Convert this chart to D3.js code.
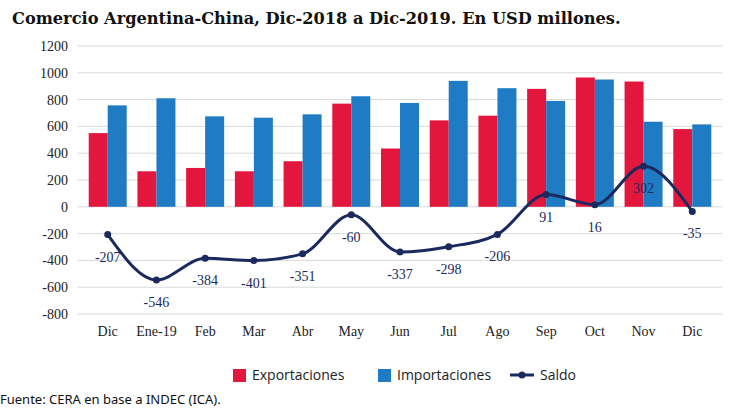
<!DOCTYPE html>
<html><head><meta charset="utf-8">
<script src="https://cdn.jsdelivr.net/npm/d3@7"></script>
<style>body{margin:0;background:#fff}</style>
</head><body>
<svg id="chart" width="730" height="410"></svg>
<script>
const categories = ["Dic","Ene-19","Feb","Mar","Abr","May","Jun","Jul","Ago","Sep","Oct","Nov","Dic"];
const exportaciones = [550,265,290,265,340,770,435,645,680,880,965,935,580];
const importaciones = [757,810,675,665,690,825,775,940,885,790,950,635,615];
const saldo = [-207,-546,-384,-401,-351,-60,-337,-298,-206,91,16,302,-35];
const yTicks = [-800,-600,-400,-200,0,200,400,600,800,1000,1200];

const expColor = "#e3173e", impColor = "#1f7cc4", saldoColor = "#1b2a5e";
const svg = d3.select("#chart");
const left = 78, right = 722;

const x = d3.scaleBand().domain(d3.range(categories.length)).range([left, right]).padding(0.22);
const y = d3.scaleLinear().domain([-800, 1200]).range([314, 46]);

// grid
svg.append("g").selectAll("line").data(yTicks).join("line")
  .attr("x1", left).attr("x2", right)
  .attr("y1", d => y(d)).attr("y2", d => y(d))
  .attr("stroke", "#d9d9d9");

const yAxis = svg.append("g").attr("transform", `translate(${left},0)`)
  .call(d3.axisLeft(y).tickValues(yTicks).tickSize(0).tickPadding(10).tickFormat(d => d === 0 ? "0" : d));
yAxis.select(".domain").remove();
yAxis.selectAll("text").attr("font-family", "Liberation Serif").attr("font-size", 14).attr("fill", "#222");

const xAxis = svg.append("g").attr("transform", `translate(0,314)`)
  .call(d3.axisBottom(x).tickFormat(i => categories[i]).tickSize(0).tickPadding(12));
xAxis.select(".domain").remove();
xAxis.selectAll("text").attr("font-family", "Liberation Serif").attr("font-size", 14).attr("fill", "#222");

const bw = x.bandwidth() / 2;
svg.append("g").selectAll("rect").data(exportaciones).join("rect")
  .attr("x", (d, i) => x(i)).attr("width", bw)
  .attr("y", d => y(d)).attr("height", d => y(0) - y(d))
  .attr("fill", expColor);
svg.append("g").selectAll("rect").data(importaciones).join("rect")
  .attr("x", (d, i) => x(i) + bw).attr("width", bw)
  .attr("y", d => y(d)).attr("height", d => y(0) - y(d))
  .attr("fill", impColor);

const cx = i => x(i) + x.bandwidth() / 2;
const line = d3.line().x((d, i) => cx(i)).y(d => y(d)).curve(d3.curveMonotoneX);
svg.append("path").datum(saldo).attr("d", line)
  .attr("fill", "none").attr("stroke", saldoColor).attr("stroke-width", 3);
svg.append("g").selectAll("circle").data(saldo).join("circle")
  .attr("cx", (d, i) => cx(i)).attr("cy", d => y(d)).attr("r", 3.5).attr("fill", saldoColor);
svg.append("g").selectAll("text").data(saldo).join("text")
  .attr("x", (d, i) => cx(i)).attr("y", d => y(d) + 27)
  .attr("text-anchor", "middle").attr("font-family", "Liberation Serif").attr("font-size", 14)
  .attr("fill", saldoColor).text(d => d);

// title
svg.append("text").attr("x", 12).attr("y", 24).attr("font-family", "DejaVu Serif")
  .attr("font-weight", "bold").attr("font-size", 16.2).attr("fill", "#111")
  .text("Comercio Argentina-China, Dic-2018 a Dic-2019. En USD millones.");

// legend
const legend = [
  {label: "Exportaciones", color: expColor, type: "rect", x: 233},
  {label: "Importaciones", color: impColor, type: "rect", x: 378},
  {label: "Saldo", color: saldoColor, type: "line", x: 514}
];
legend.forEach(l => {
  if (l.type === "rect") svg.append("rect").attr("x", l.x).attr("y", 369).attr("width", 13).attr("height", 13).attr("fill", l.color);
  else {
    svg.append("line").attr("x1", l.x - 4).attr("x2", l.x + 20).attr("y1", 375).attr("y2", 375).attr("stroke", l.color).attr("stroke-width", 3);
    svg.append("circle").attr("cx", l.x + 8).attr("cy", 375).attr("r", 3.5).attr("fill", l.color);
  }
  svg.append("text").attr("x", l.x + (l.type === "rect" ? 19 : 26)).attr("y", 380)
    .attr("font-family", "Open Sans").attr("font-size", 14).attr("fill", "#222").text(l.label);
});

svg.append("text").attr("x", 0).attr("y", 404).attr("font-family", "Noto Sans").attr("font-size", 13)
  .attr("fill", "#111").text("Fuente: CERA en base a INDEC (ICA).");
</script>
</body></html>
